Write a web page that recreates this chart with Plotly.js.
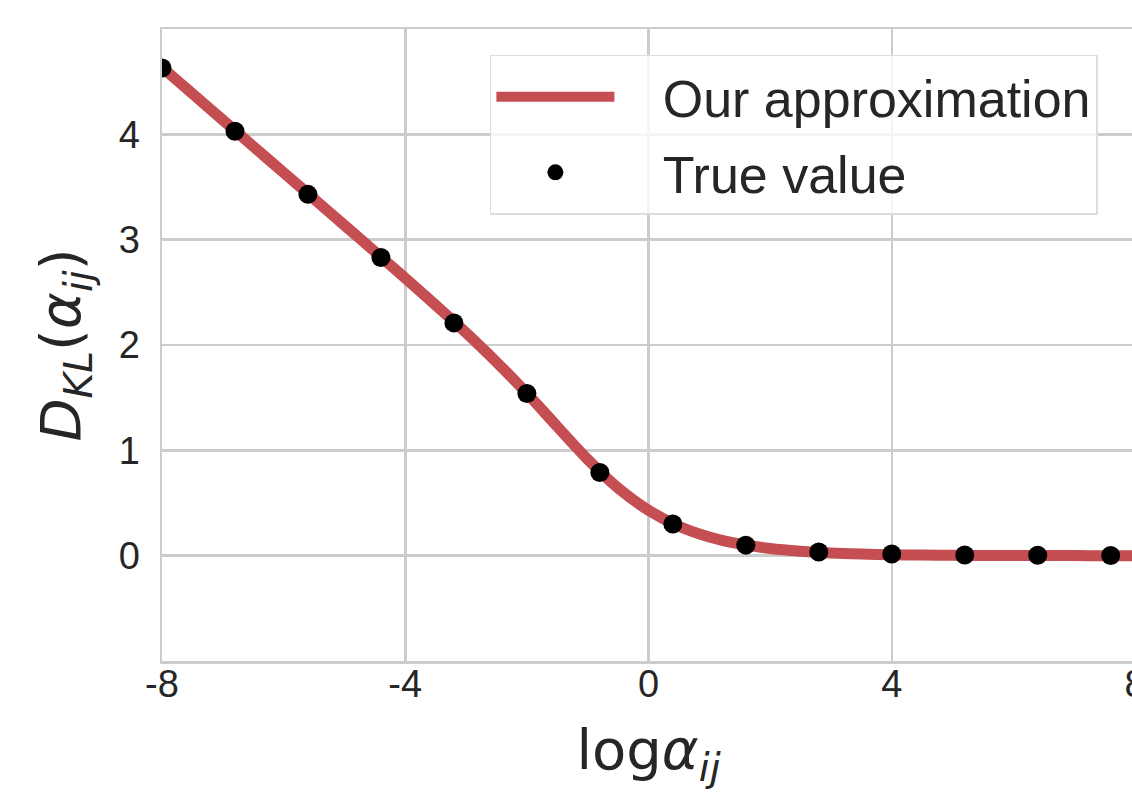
<!DOCTYPE html>
<html>
<head>
<meta charset="utf-8">
<script src="https://cdn.plot.ly/plotly-3.0.1.min.js"></script>
<style>
html, body { margin: 0; padding: 0; overflow: hidden; background: #ffffff; }
#chart { width: 1140px; height: 793px; }
</style>
</head>
<body>
<div id="chart"></div>
<script>
// Curve: our approximation of D_KL vs log alpha
const approxX = [-8, -7.5, -7, -6.5, -6, -5.5, -5, -4.5, -4, -3.5, -3, -2.5, -2, -1.5, -1, -0.5,
                 0, 0.5, 1, 1.5, 2, 2.5, 3, 3.5, 4, 4.5, 5, 5.5, 6, 6.5, 7, 7.5, 8];
const approxY = [4.636, 4.386, 4.136, 3.886, 3.636, 3.387, 3.137, 2.886, 2.634, 2.379, 2.116, 1.838,
                 1.541, 1.225, 0.914, 0.642, 0.431, 0.280, 0.178, 0.111, 0.068, 0.042, 0.025, 0.015,
                 0.009, 0.006, 0.003, 0.002, 0.001, 0.001, 0.0005, 0.0003, 0.0002];
// True values (dots)
const trueX = [-8, -6.8, -5.6, -4.4, -3.2, -2.0, -0.8, 0.4, 1.6, 2.8, 4.0, 5.2, 6.4, 7.6];
const trueY = [4.63, 4.03, 3.43, 2.83, 2.21, 1.54, 0.79, 0.30, 0.10, 0.035, 0.015, 0.007, 0.004, 0.002];
// Tick labels
const xTickVals = [-8, -4, 0, 4, 8];
const xTickText = ['-8', '-4', '0', '4', '8'];
const yTickVals = [0, 1, 2, 3, 4];
const yTickText = ['0', '1', '2', '3', '4'];
const seriesNames = ['Our approximation', 'True value'];

const textColor = '#262626';
const gridColor = '#cccccc';
const pad = '\u00a0\u00a0\u00a0';

const traces = [
  {
    x: approxX, y: approxY, type: 'scatter', mode: 'lines', name: pad + seriesNames[0],
    legendgroup: 'a',
    line: { color: '#c44e52', width: 11, shape: 'spline', smoothing: 0.8 },
    hoverinfo: 'skip'
  },
  {
    x: trueX, y: trueY, type: 'scatter', mode: 'markers', name: pad + seriesNames[1],
    legendgroup: 'b',
    marker: { color: '#000000', size: 19 },
    hoverinfo: 'skip'
  }
];

const layout = {
  width: 1140, height: 793,
  margin: { l: 162, r: 5, t: 29, b: 132, pad: 0 },
  paper_bgcolor: '#ffffff', plot_bgcolor: '#ffffff',
  font: { family: 'Liberation Sans, Arial, sans-serif', color: textColor, size: 38 },
  showlegend: true,
  legend: {
    x: 0.337, y: 0.959, xanchor: 'left', yanchor: 'top',
    bgcolor: 'rgba(255,255,255,0.8)', bordercolor: '#dddddd', borderwidth: 1.5,
    font: { family: 'Liberation Sans, Arial, sans-serif', size: 52, color: textColor },
    itemwidth: 118, tracegroupgap: 5
  },
  xaxis: {
    range: [-8, 8], tickvals: xTickVals, ticktext: xTickText,
    showgrid: true, gridcolor: gridColor, gridwidth: 2.5,
    zeroline: false, showline: true, mirror: true, linecolor: gridColor, linewidth: 2.5,
    ticks: '', ticklabelstandoff: -12, ticklabeloverflow: 'allow',
    tickfont: { family: 'Liberation Sans, Arial, sans-serif', size: 38, color: textColor },
    title: { text: 'log<i>α</i><sub><i>ij</i></sub>', standoff: 26,
             font: { family: 'DejaVu Sans, sans-serif', size: 56, color: textColor } },
    automargin: false, fixedrange: true
  },
  yaxis: {
    range: [-1, 5], tickvals: yTickVals, ticktext: yTickText,
    showgrid: true, gridcolor: gridColor, gridwidth: 2.5,
    zeroline: false, showline: true, mirror: true, linecolor: gridColor, linewidth: 2.5,
    ticks: '', ticklabelstandoff: 12,
    tickfont: { family: 'Liberation Sans, Arial, sans-serif', size: 38, color: textColor },
    title: { text: '<i>D</i><sub><i>KL</i></sub>(<i>α</i><sub><i>ij</i></sub>)', standoff: 20,
             font: { family: 'DejaVu Sans, sans-serif', size: 56, color: textColor } },
    automargin: false, fixedrange: true
  }
};

Plotly.newPlot('chart', traces, layout, { staticPlot: true, displayModeBar: false });
</script>
</body>
</html>
